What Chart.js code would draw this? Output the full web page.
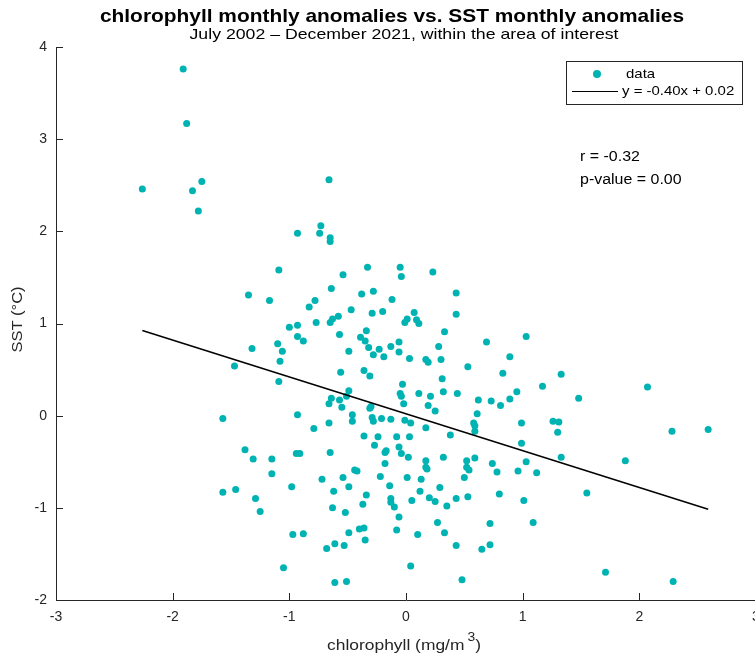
<!DOCTYPE html>
<html>
<head>
<meta charset="utf-8">
<title>chlorophyll vs SST anomalies</title>
<script src="https://cdn.jsdelivr.net/npm/chart.js@4/dist/chart.umd.min.js"></script>
<style>
  html, body { margin: 0; padding: 0; overflow: hidden; background: #fff; }
</style>
</head>
<body>
<canvas id="chart" width="770" height="658"></canvas>
<script>
// monthly anomalies
const chlorophyll = [
  -1.91, -1.88, -1.75, -2.26, -1.83, -1.78, -0.66, -0.73, -0.93, -0.74,
  -0.65, -0.65, -1.09, -0.54, -0.64, -1.35, -1.17, -0.78, -0.83, -0.47,
  -0.58, -0.63, -0.65, -0.77, -1.00, -0.93, -0.93, -0.88, -0.57, -1.32,
  -1.10, -1.06, -0.49, -1.08, -1.47, -0.56, -1.09, -0.49, -0.51, -0.64,
  -0.57, -0.66, -0.55, -0.93, -1.57, -0.66, -0.79, -1.38, -1.31, -1.15,
  -0.94, -0.91, -0.65, -1.15, -0.72, -0.54, -0.49, -0.98, -0.62, -1.57,
  -1.46, -1.29, -1.25, -0.63, -0.52, -0.49, -0.97, -0.88, -0.61, -0.68,
  -0.53, -1.05, -0.61, -0.51,
  -0.33, -0.05, -0.04, 0.23, -0.38, -0.28, -0.12, 0.43, 0.43, -0.29,
  -0.20, 0.07, 0.01, -0.01, 0.09, 0.11, -0.34, -0.39, -0.35, -0.32,
  -0.06, -0.13, -0.23, -0.28, -0.19, -0.06, 0.33, 0.28, 0.03, 0.17,
  0.19, 0.30, 0.69, 1.03, 0.89, 0.53, 0.83, -0.36, -0.31, 0.31,
  -0.03, -0.05, -0.04, 0.11, 0.32, 0.44, 0.95, -0.02, 0.21, 0.19,
  0.25, 0.62, 0.73, 0.81, 0.89, 0.61, -0.31, -0.30, -0.46, -0.46,
  -0.29, -0.28, -0.21, -0.13, -0.01, 0.04, 0.17, 0.58, 0.59, 0.99,
  0.59, -0.36, -0.24, -0.08, 0.03, 0.38, 0.99, -0.27, -0.06, -0.17,
  -0.18, -0.04, 0.02, 0.32, 0.59, 0.17, 0.52, 1.03, -0.18, 0.74,
  0.17, 0.18, 0.52, 0.54, 0.78, 0.96, 1.12, -0.44, -0.42, -0.22,
  0.01, 0.13, 0.50, -0.14, 0.29, -0.34, 0.12, 0.80, 0.20, 0.25,
  0.43, 0.53, 1.01, -0.13, -0.13, -0.10, 0.05, -0.37, 0.35, -0.06,
  0.27, 0.72, 1.09, -0.40, -0.36, -0.08, -0.35, 0.33, 0.10, 0.43,
  0.65, 0.72, 0.04, 0.48,
  1.33, 1.17, 1.48, 2.07, 1.26, 1.31, 1.30, 2.28, 2.59, 1.33,
  1.88, 1.55, 1.71, 2.29
]
const sst = [
  3.76, 3.17, 2.54, 2.46, 2.44, 2.22, 2.56, 2.06, 1.98, 1.98,
  1.93, 1.89, 1.58, 1.53, 1.38, 1.31, 1.25, 1.25, 1.18, 1.15,
  1.08, 1.05, 1.01, 1.01, 0.96, 0.98, 0.86, 0.81, 0.88, 0.73,
  0.78, 0.70, 0.70, 0.59, 0.54, 0.47, 0.37, 0.27, 0.21, 0.19,
  0.17, 0.13, 0.09, 0.01, -0.03, -0.08, -0.14, -0.37, -0.47, -0.47,
  -0.41, -0.41, -0.40, -0.63, -0.69, -0.67, -0.77, -0.77, -0.82, -0.83,
  -0.80, -0.90, -1.04, -1.00, -1.05, -1.27, -1.29, -1.28, -1.39, -1.44,
  -1.41, -1.65, -1.81, -1.80,
  1.61, 1.61, 1.51, 1.56, 1.32, 1.35, 1.26, 1.33, 1.10, 1.11,
  1.13, 1.12, 1.05, 1.01, 1.04, 1.00, 0.92, 0.85, 0.81, 0.74,
  0.80, 0.75, 0.72, 0.66, 0.64, 0.69, 0.91, 0.75, 0.62, 0.61,
  0.58, 0.61, 0.80, 0.86, 0.64, 0.53, 0.46, 0.49, 0.43, 0.40,
  0.34, 0.24, 0.21, 0.24, 0.26, 0.24, 0.26, 0.13, 0.21, 0.11,
  0.05, 0.17, 0.16, 0.11, 0.18, 0.02, 0.08, 0.10, 0.01, -0.06,
  -0.02, -0.06, -0.03, -0.04, -0.05, -0.08, -0.13, -0.08, -0.11, -0.08,
  -0.17, -0.22, -0.23, -0.23, -0.23, -0.21, -0.30, -0.32, -0.34, -0.38,
  -0.40, -0.41, -0.45, -0.45, -0.46, -0.49, -0.49, -0.50, -0.52, -0.52,
  -0.56, -0.58, -0.56, -0.59, -0.61, -0.60, -0.62, -0.59, -0.60, -0.66,
  -0.67, -0.69, -0.67, -0.76, -0.78, -0.86, -0.82, -0.85, -0.89, -0.93,
  -0.90, -0.88, -0.92, -0.90, -0.94, -0.99, -0.92, -0.96, -0.98, -1.10,
  -1.16, -1.17, -1.16, -1.23, -1.22, -1.24, -1.35, -1.27, -1.29, -1.41,
  -1.45, -1.40, -1.63, -1.78,
  0.45, 0.32, 0.19, 0.31, -0.06, -0.07, -0.18, -0.17, -0.15, -0.45,
  -0.49, -0.84, -1.70, -1.80
]

// least squares fit shown in the legend
const fitSlope = -0.40
const fitIntercept = 0.02
const fitRange = [-2.26, 2.59]
const statsLines = ['r = -0.32', 'p-value = 0.00']

const xTicks = [-3, -2, -1, 0, 1, 2, 3]
const yTicks = [-2, -1, 0, 1, 2, 3, 4]

const FONT = '"Liberation Sans", Arial, Helvetica, sans-serif'
const AXIS = '#262626'
const TEAL = 'rgb(0,179,179)'

const points = chlorophyll.map((x, i) => ({ x, y: sst[i] }))
const fitLine = fitRange.map((x) => ({ x, y: fitSlope * x + fitIntercept }))

// the original font runs wider than Liberation Sans, so stretch a bit
function wideText(ctx, text, x, y, stretch, align = 'left') {
  const w = ctx.measureText(text).width * stretch
  const left = align === 'center' ? x - w / 2 : x
  ctx.save()
  ctx.textAlign = 'left'
  ctx.translate(left, y)
  ctx.scale(stretch, 1)
  ctx.fillText(text, 0, 0)
  ctx.restore()
  return w
}

// matlab-like decorations: inward ticks, titles, legend box, stats text
const decorate = {
  id: 'decorate',
  afterDraw(chart) {
    const { ctx, chartArea: a } = chart
    const sx = chart.scales.x
    const sy = chart.scales.y
    const cx = (a.left + a.right) / 2
    ctx.save()

    ctx.strokeStyle = AXIS
    ctx.lineWidth = 1
    ctx.beginPath()
    xTicks.forEach((v) => {
      const px = Math.round(sx.getPixelForValue(v)) + 0.5
      ctx.moveTo(px, a.bottom)
      ctx.lineTo(px, a.bottom - 7)
    })
    yTicks.forEach((v) => {
      const py = Math.round(sy.getPixelForValue(v)) + 0.5
      ctx.moveTo(a.left, py)
      ctx.lineTo(a.left + 7, py)
    })
    ctx.stroke()

    ctx.textBaseline = 'middle'
    ctx.fillStyle = '#000'
    ctx.font = `bold 19px ${FONT}`
    wideText(ctx, 'chlorophyll monthly anomalies vs. SST monthly anomalies', cx - 14, 17, 1.1, 'center')
    ctx.font = `15px ${FONT}`
    wideText(ctx, 'July 2002 \u2013 December 2021, within the area of interest', cx - 2, 35, 1.18, 'center')

    // y label
    ctx.fillStyle = AXIS
    ctx.save()
    ctx.translate(18, (a.top + a.bottom) / 2 - 4)
    ctx.rotate(-Math.PI / 2)
    ctx.font = `15px ${FONT}`
    wideText(ctx, 'SST (\u00B0C)', 0, 0, 1.1, 'center')
    ctx.restore()

    // x label with superscript
    const st = 1.16
    const main = 'chlorophyll (mg/m'
    ctx.font = `15px ${FONT}`
    const w1 = ctx.measureText(main).width * st
    const w3 = ctx.measureText(')').width * st
    ctx.font = `12px ${FONT}`
    const w2 = ctx.measureText('3').width * st
    const gap = 3
    const x0 = cx - 2 - (w1 + gap + w2 + w3) / 2
    ctx.font = `15px ${FONT}`
    wideText(ctx, main, x0, 646, st)
    ctx.font = `12px ${FONT}`
    wideText(ctx, '3', x0 + w1 + gap, 638, st)
    ctx.font = `15px ${FONT}`
    wideText(ctx, ')', x0 + w1 + gap + w2, 646, st)

    // legend
    ctx.fillStyle = '#fff'
    ctx.fillRect(566.5, 61.5, 176, 43)
    ctx.strokeStyle = AXIS
    ctx.strokeRect(566.5, 61.5, 176, 43)
    ctx.fillStyle = TEAL
    ctx.beginPath()
    ctx.arc(597, 74, 4, 0, Math.PI * 2)
    ctx.fill()
    ctx.strokeStyle = '#000'
    ctx.lineWidth = 1
    ctx.beginPath()
    ctx.moveTo(572, 91.5)
    ctx.lineTo(618, 91.5)
    ctx.stroke()
    ctx.fillStyle = '#000'
    ctx.font = `13px ${FONT}`
    wideText(ctx, 'data', 626, 74, 1.15)
    const sign = fitIntercept < 0 ? '-' : '+'
    wideText(ctx, `y = ${fitSlope.toFixed(2)}x ${sign} ${Math.abs(fitIntercept).toFixed(2)}`, 622, 91, 1.15)

    // stats
    ctx.font = `14px ${FONT}`
    statsLines.forEach((s, i) => wideText(ctx, s, 580, 157 + i * 23, 1.14))

    ctx.restore()
  }
}

new Chart(document.getElementById('chart'), {
  type: 'scatter',
  data: {
    datasets: [
      {
        type: 'line',
        label: 'fit',
        data: fitLine,
        borderColor: '#000',
        borderWidth: 1.5,
        pointRadius: 0,
        order: 0
      },
      {
        label: 'data',
        data: points,
        backgroundColor: TEAL,
        borderWidth: 0,
        pointRadius: 3.5,
        order: 1
      }
    ]
  },
  options: {
    responsive: false,
    animation: false,
    layout: {
      padding: { top: 47, right: 14, left: 0, bottom: 0 }
    },
    scales: {
      x: {
        type: 'linear',
        min: -3,
        max: 3,
        afterBuildTicks: (s) => { s.ticks = xTicks.map((value) => ({ value })) },
        afterFit: (s) => { s.height = 58; s.paddingLeft = 0; s.paddingRight = 0 },
        grid: { drawOnChartArea: false, drawTicks: false },
        border: { color: AXIS, width: 1 },
        ticks: {
          color: AXIS,
          padding: 9,
          font: { family: FONT, size: 14 },
          maxRotation: 0
        }
      },
      y: {
        type: 'linear',
        min: -2,
        max: 4,
        afterBuildTicks: (s) => { s.ticks = yTicks.map((value) => ({ value })) },
        afterFit: (s) => { s.width = 56; s.paddingTop = 0; s.paddingBottom = 0 },
        grid: { drawOnChartArea: false, drawTicks: false },
        border: { color: AXIS, width: 1 },
        ticks: {
          color: AXIS,
          padding: 9,
          font: { family: FONT, size: 14 }
        }
      }
    },
    plugins: {
      legend: { display: false },
      tooltip: { enabled: false }
    }
  },
  plugins: [decorate]
})
</script>
</body>
</html>
